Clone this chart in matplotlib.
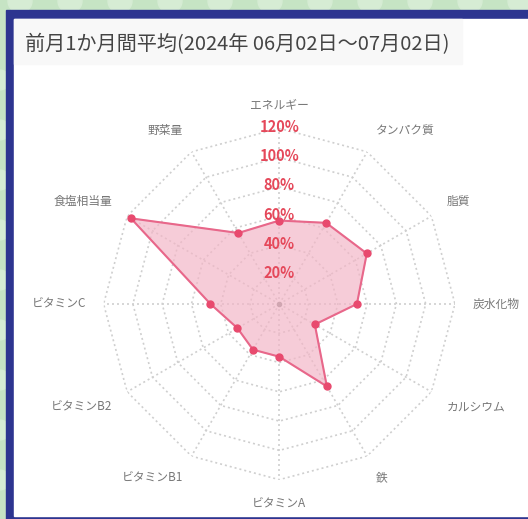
import numpy as np
import matplotlib.pyplot as plt
from matplotlib.patches import Rectangle, Circle

plt.rcParams['font.family'] = ['Noto Sans CJK JP', 'DejaVu Sans']

title = "前月1か月間平均(2024年 06月02日～07月02日)"
nutrients = ["エネルギー", "タンパク質", "脂質", "炭水化物", "カルシウム", "鉄",
             "ビタミンA", "ビタミンB1", "ビタミンB2", "ビタミンC", "食塩相当量", "野菜量"]
values = [57, 64, 69, 53, 28, 65, 36, 36, 33, 47, 117, 56]
ring_levels = [20, 40, 60, 80, 100, 120]
ring_labels = ["20%", "40%", "60%", "80%", "100%", "120%"]

W, H = 528, 519
fig = plt.figure(figsize=(W / 100, H / 100), dpi=100)
fig.patch.set_facecolor('#c6e4c4')


def box(x0, y0, w, h):
    # pixel box (top-left origin) -> figure fraction
    return (x0 / W, 1 - (y0 + h) / H), w / W, h / H


# decorative dots on the green background
for x in range(20, W + 1, 50):
    fig.patches.append(Circle((x / W, 1 - 1 / H), 12 / W, transform=fig.transFigure,
                              color='#d6ecd4', zorder=0))
for y in range(80, H, 50):
    fig.patches.append(Circle((0, 1 - y / H), 10 / W, transform=fig.transFigure,
                              color='#d6ecd4', zorder=0))

xy, w, h = box(6, 10, W - 6, H - 10)
fig.patches.append(Rectangle(xy, w, h, transform=fig.transFigure, color='#2d3590', zorder=1))
xy, w, h = box(14, 19, W - 14, H - 19 - 3)
fig.patches.append(Rectangle(xy, w, h, transform=fig.transFigure, color='white', zorder=2))
xy, w, h = box(14, 19, 448, 45)
fig.patches.append(Rectangle(xy, w, h, transform=fig.transFigure, color='#f8f8f8', zorder=2))

fig.text(25 / W, 1 - 45 / H, title, fontsize=14.5, color='#444444', ha='left', va='center', zorder=3)

# radar chart
cx, cy, R = 279.3, 304, 175.7
ax = fig.add_axes([(cx - R) / W, 1 - (cy + R) / H, 2 * R / W, 2 * R / H], projection='polar')
ax.set_facecolor('none')
ax.set_zorder(4)
ax.set_theta_zero_location('N')
ax.set_theta_direction(-1)
ax.set_ylim(0, 120)
ax.grid(False)
ax.spines['polar'].set_visible(False)
ax.set_xticks([])
ax.set_yticks([])

n = len(nutrients)
theta = np.arange(n) * 2 * np.pi / n
theta_c = np.append(theta, theta[0])

for r in ring_levels:
    ax.plot(theta_c, [r] * (n + 1), color='#cfcfcf', lw=1.2, ls=(0, (1.2, 1.8)), zorder=1)
for t in theta:
    ax.plot([t, t], [0, 120], color='#cfcfcf', lw=1.2, ls=(0, (1.2, 1.8)), zorder=1)
ax.plot([0], [0], 'o', color='#888888', ms=3, zorder=2)

vals_c = values + values[:1]
ax.fill(theta_c, vals_c, color='#f3b5c6', alpha=0.68, zorder=3)
ax.plot(theta_c, vals_c, color='#e8678a', lw=1.5, zorder=4)
ax.plot(theta, values, 'o', color='#e84a6e', ms=5, zorder=5)

for r, lab in zip(ring_levels, ring_labels):
    ax.text(0, r + 1, lab, ha='center', va='center', fontsize=10.5, color='#e5485a',
            fontweight='bold', zorder=6)

r_lab = 193 / R * 120
for t, lab in zip(theta, nutrients):
    s, c = np.sin(t), np.cos(t)
    ha = 'left' if s > 0.01 else ('right' if s < -0.01 else 'center')
    va = 'bottom' if c > 0.01 else ('top' if c < -0.01 else 'center')
    ax.text(t, r_lab, lab, ha=ha, va=va, fontsize=8.5, color='#777777', clip_on=False)

fig.savefig('out.png', dpi=100)
